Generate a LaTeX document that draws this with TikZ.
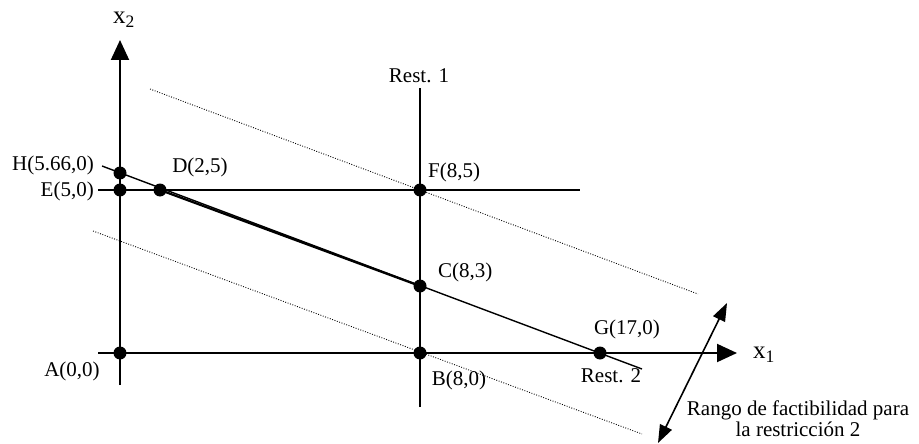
\documentclass[tikz,border=0pt]{standalone}
\usepackage{fontspec}
\setmainfont{Liberation Serif}
\usetikzlibrary{arrows.meta}
\begin{document}
\begin{tikzpicture}[x=1pt,y=-1pt,
  axis/.style={line width=2pt},
  restline/.style={line width=1.8pt},
  dotline/.style={line width=0.9pt, dash pattern=on 0.9pt off 1.6pt},
  dotpt/.style={circle, fill=black, inner sep=0pt, minimum size=13pt},
  lbl/.style={font=\fontsize{21}{23}\selectfont, inner sep=1pt},
  axlbl/.style={font=\fontsize{25}{27}\selectfont, inner sep=1pt},
  bigarrow/.style={-{Triangle[length=20pt,width=18pt]}},
  dblarrow/.style={line width=1.6pt,{Triangle[length=18pt,width=13pt]}-{Triangle[length=18pt,width=13pt]}}]
\useasboundingbox (0,0) rectangle (919,444);
% coordinates
\coordinate (A) at (120,353);
\coordinate (B) at (420,353);
\coordinate (C) at (420,286);
\coordinate (D) at (160,190);
\coordinate (E) at (120,190);
\coordinate (F) at (420,190);
\coordinate (G) at (600,353);
\coordinate (H) at (120,173);
\coordinate (x2bot) at (120,385);
\coordinate (x2top) at (120,40);
\coordinate (x1left) at (98,353);
\coordinate (x1right) at (737,353);
\coordinate (r1top) at (420,88);
\coordinate (r1bot) at (420,407);
\coordinate (r3left) at (98,190);
\coordinate (r3right) at (580,190);
\coordinate (r2left) at (102,166);
\coordinate (r2right) at (642,369);
\coordinate (u1) at (150,89);
\coordinate (u2) at (698,294);
\coordinate (l1) at (93,231);
\coordinate (l2) at (642,434);
\coordinate (ra1) at (658,443);
\coordinate (ra2) at (727,303);
% dotted parallel lines
\draw[dotline] (u1) -- (u2);
\draw[dotline] (l1) -- (l2);
% axes
\draw[axis,bigarrow] (x2bot) -- (x2top);
\draw[axis,bigarrow] (x1left) -- (x1right);
% restrictions
\draw[restline] (r1bot) -- (r1top);
\draw[restline] (r3left) -- (r3right);
\draw[line width=1.4pt] (r2left) -- (r2right);
\draw[line width=2.2pt] (D) -- (C);
% range arrow
\draw[dblarrow] (ra1) -- (ra2);
% points
\foreach \p in {A,B,C,D,E,F,G,H} \node[dotpt] (dot\p) at (\p) {};
% labels
\node[axlbl] (lx2) at (124,20) {x\textsubscript{2}};
\node[axlbl] (lx1) at (764,355) {x\textsubscript{1}};
\node[lbl] (lr1) at (419,76) {Rest. 1};
\node[lbl,anchor=east] (lH) at (95,165) {H(5.66,0)};
\node[lbl,anchor=east] (lE) at (95,191) {E(5,0)};
\node[lbl] (lD) at (200,167) {D(2,5)};
\node[lbl,anchor=west] (lF) at (427,172) {F(8,5)};
\node[lbl,anchor=west] (lC) at (437,272) {C(8,3)};
\node[lbl] (lA) at (72,371) {A(0,0)};
\node[lbl] (lB) at (459,380) {B(8,0)};
\node[lbl] (lG) at (627,329) {G(17,0)};
\node[lbl] (lR2) at (611,376) {Rest. 2};
\node[lbl,align=center,font=\fontsize{21}{21}\selectfont] (lrange) at (798,419) {Rango de factibilidad para\\la restricción 2};
\end{tikzpicture}
\end{document}
